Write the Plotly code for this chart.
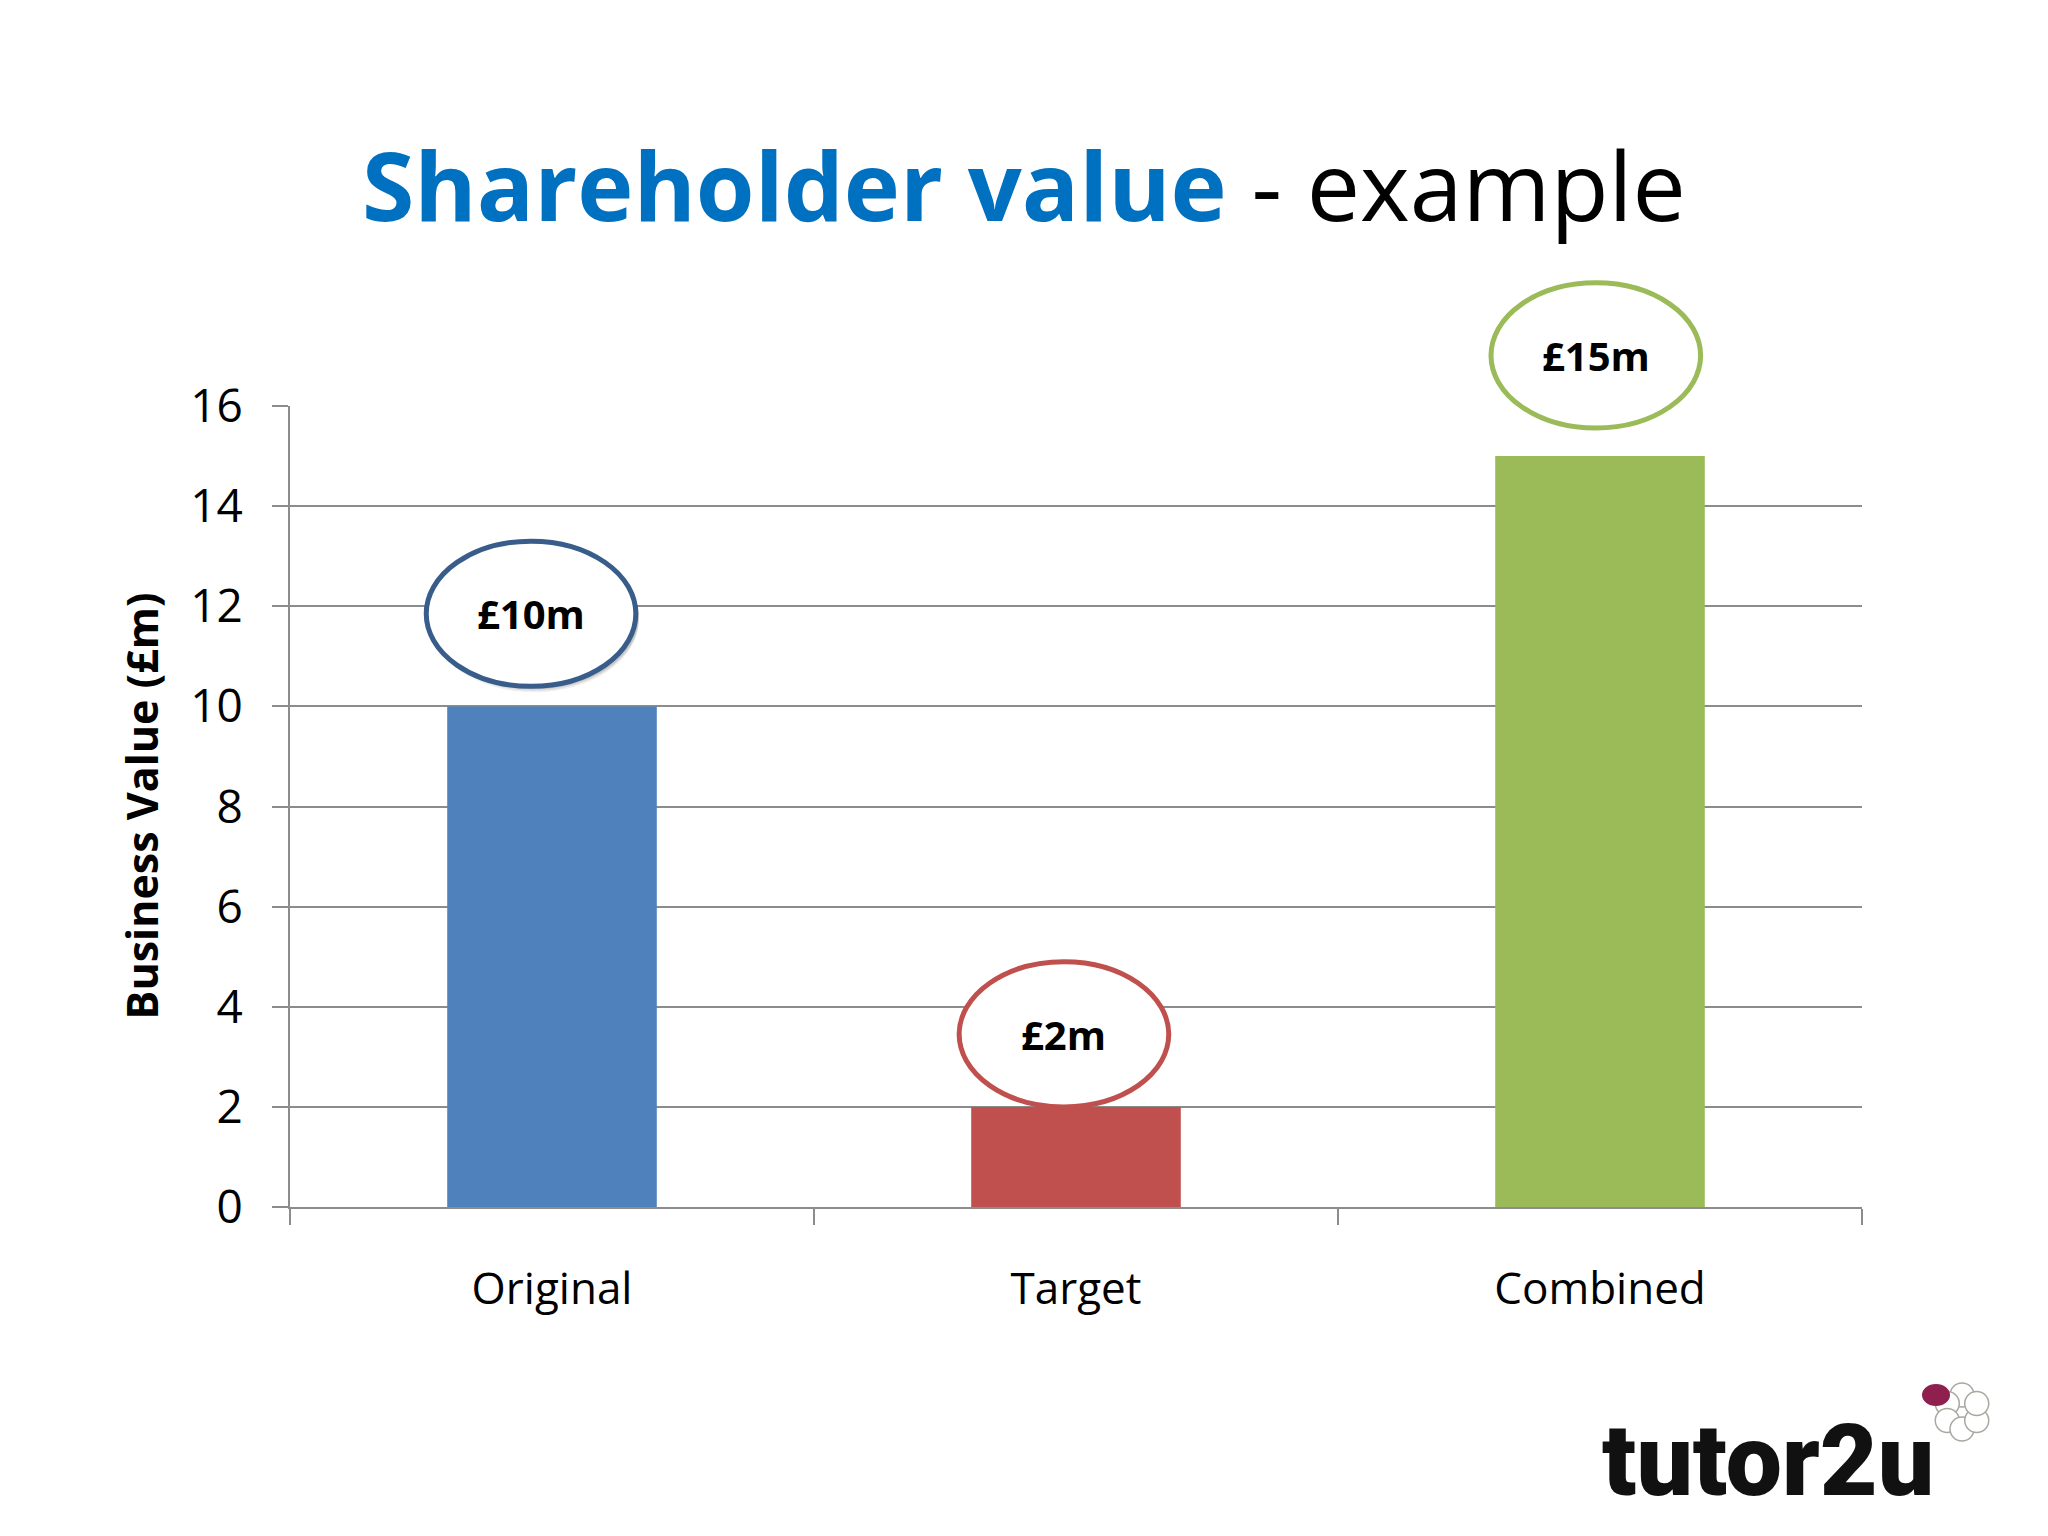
import plotly.graph_objects as go
import math

# ---------------- data ----------------
categories = ["Original", "Target", "Combined"]
values = [10, 2, 15]
bar_colors = ["#4F81BD", "#C0504D", "#9BBB59"]
ellipse_line_colors = ["#385D8A", "#C0504D", "#9BBB59"]
y_ticks = [0, 2, 4, 6, 8, 10, 12, 14, 16]
title_bold = "Shareholder value"
title_rest = " - example"
y_title = "Business Value (£m)"

# ---------------- layout constants ----------------
W, H = 2048, 1536
PAGE_OFF = 8  # page body margin
# plot area in page pixels
PL, PR, PT, PB = 290, 1862, 406, 1207
L = PL - PAGE_OFF
T = PT - PAGE_OFF
R = W - (PR - PAGE_OFF)
B = H - (PB - PAGE_OFF)
PW, PH = PR - PL, PB - PT
YMIN, YMAX = 0, 16
FONT = "Open Sans"

def px_x(p):
    return (p - PL) / PW

def px_y(p):
    return (PB - p) / PH

def dom_x(i, dx=0.0):
    return (i + 0.5 + dx) / len(categories)

def dom_y(v):
    return (v - YMIN) / (YMAX - YMIN)

# ellipse placement (relative to each bar)
ell_dx = [-0.04, -0.023, -0.008]
ell_gap = [0.40, 0.0, 0.56]
ell_h = 2.9
ell_w = 0.40

fig = go.Figure()
fig.add_trace(go.Bar(
    x=categories, y=values, width=0.4,
    marker=dict(color=bar_colors, line=dict(width=0)),
    hoverinfo="skip",
))

shapes = []
annotations = []
for i, v in enumerate(values):
    y0 = v + ell_gap[i]
    y1 = y0 + ell_h
    x0 = dom_x(i, ell_dx[i] - ell_w / 2)
    x1 = dom_x(i, ell_dx[i] + ell_w / 2)
    if i == 0:
        for k, a in enumerate([0.06, 0.08, 0.10]):
            off = 0.12 - k * 0.03
            shapes.append(dict(type="circle", xref="x domain", yref="y domain",
                               x0=x0 + 0.002, x1=x1 + 0.002,
                               y0=dom_y(y0 - off), y1=dom_y(y1 - off),
                               fillcolor=f"rgba(0,0,0,{a})", line=dict(width=0)))
    shapes.append(dict(type="circle", xref="x domain", yref="y domain",
                       x0=x0, x1=x1, y0=dom_y(y0), y1=dom_y(y1),
                       fillcolor="white",
                       line=dict(color=ellipse_line_colors[i], width=5)))
    annotations.append(dict(xref="x domain", yref="y domain",
                            x=dom_x(i, ell_dx[i]), y=dom_y((y0 + y1) / 2),
                            text=f"<b>£{v}m</b>", showarrow=False,
                            xanchor="center", yanchor="middle",
                            font=dict(family=FONT, size=40, color="black")))

# Title
annotations.append(dict(xref="paper", yref="paper", x=px_x(1024), y=px_y(184),
                        xanchor="center", yanchor="middle", showarrow=False,
                        text=f"<span style='color:#0070C0'><b>{title_bold}</b></span>{title_rest}",
                        font=dict(family=FONT, size=95, color="black")))

# Y-axis title
annotations.append(dict(xref="paper", yref="paper", x=px_x(141), y=0.5,
                        xanchor="center", yanchor="middle", showarrow=False,
                        textangle=-90, text=f"<b>{y_title}</b>",
                        font=dict(family=FONT, size=43, color="black")))

# Logo text
annotations.append(dict(xref="paper", yref="paper", x=px_x(1600), y=px_y(1460),
                        xanchor="left", yanchor="middle", showarrow=False,
                        text="tutor2u",
                        font=dict(family="Roboto", size=100, color="#111111", weight=900)))

# Logo flower
cx, cy, pr, pd = 1962, 1412, 12, 17
for k in range(6):
    ang = math.radians(90 + k * 60)
    px_c = cx + pd * math.cos(ang)
    py_c = cy - pd * math.sin(ang)
    shapes.append(dict(type="circle", xref="paper", yref="paper",
                       x0=px_x(px_c - pr), x1=px_x(px_c + pr),
                       y0=px_y(py_c + pr), y1=px_y(py_c - pr),
                       fillcolor="white", line=dict(color="#A8A8A0", width=1.5)))
shapes.append(dict(type="circle", xref="paper", yref="paper",
                   x0=px_x(1922), x1=px_x(1950), y0=px_y(1406), y1=px_y(1384),
                   fillcolor="#8E1F4F", line=dict(width=0)))

axis_col = "#8C8C8C"
fig.update_layout(
    width=W, height=H,
    margin=dict(l=L, r=R, t=T, b=B, autoexpand=False),
    paper_bgcolor="white", plot_bgcolor="white",
    showlegend=False,
    shapes=shapes, annotations=annotations,
    xaxis=dict(showline=True, linecolor=axis_col, linewidth=2,
               ticks="outside", tickson="boundaries", ticklen=16,
               tickcolor=axis_col, tickwidth=2, showgrid=False,
               tickfont=dict(family=FONT, size=44, color="black"),
               ticklabelstandoff=42, fixedrange=True),
    yaxis=dict(range=[YMIN, YMAX], tickvals=y_ticks,
               showline=True, linecolor=axis_col, linewidth=2,
               showgrid=True, gridcolor=axis_col, gridwidth=2, zeroline=False,
               ticks="outside", ticklen=16, tickcolor=axis_col, tickwidth=2,
               tickfont=dict(family=FONT, size=46, color="black"),
               ticklabelstandoff=20, fixedrange=True),
)

fig.write_html("out.html")
